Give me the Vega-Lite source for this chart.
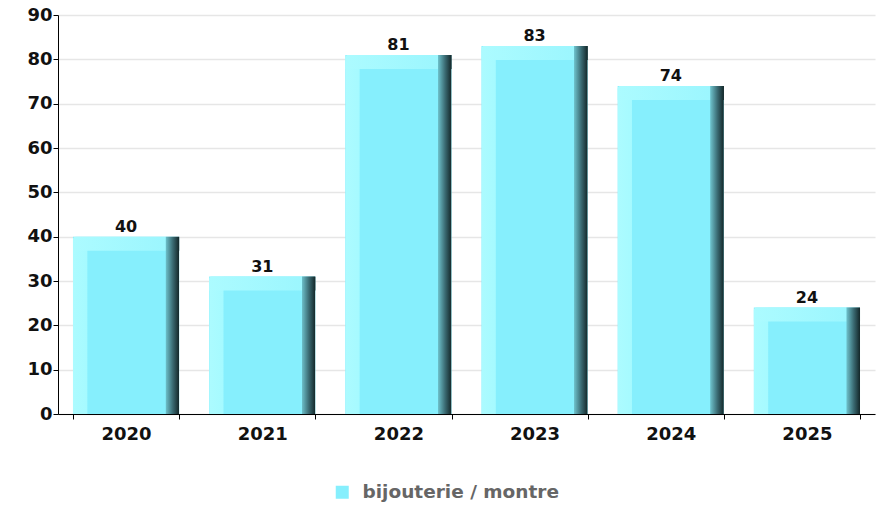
{
  "$schema": "https://vega.github.io/schema/vega-lite/v6.json",
  "width": 817,
  "height": 399,
  "autosize": "none",
  "padding": {"left": 58, "top": 15, "right": 11, "bottom": 91},
  "background": "white",
  "config": {
    "view": {"stroke": null},
    "font": "DejaVu Sans"
  },
  "data": {
    "values": [
      {"year": "2020", "value": 40, "series": "bijouterie / montre"},
      {"year": "2021", "value": 31, "series": "bijouterie / montre"},
      {"year": "2022", "value": 81, "series": "bijouterie / montre"},
      {"year": "2023", "value": 83, "series": "bijouterie / montre"},
      {"year": "2024", "value": 74, "series": "bijouterie / montre"},
      {"year": "2025", "value": 24, "series": "bijouterie / montre"}
    ]
  },
  "encoding": {
    "x": {
      "field": "year",
      "type": "nominal",
      "scale": {"paddingInner": 0.22, "paddingOuter": 0.11},
      "axis": {
        "title": null,
        "labelAngle": 0,
        "labelFont": "DejaVu Sans",
        "labelFontWeight": "bold",
        "labelFontSize": 18,
        "labelColor": "#111111",
        "labelPadding": 6,
        "domainColor": "#000000",
        "tickColor": "#000000",
        "tickBand": "extent",
        "tickSize": 5,
        "grid": false
      }
    },
    "y": {
      "field": "value",
      "type": "quantitative",
      "scale": {"domain": [0, 90], "nice": false},
      "axis": {
        "title": null,
        "values": [0, 10, 20, 30, 40, 50, 60, 70, 80, 90],
        "labelOverlap": false,
        "labelFont": "DejaVu Sans",
        "labelFontWeight": "bold",
        "labelFontSize": 18,
        "labelColor": "#111111",
        "labelPadding": 1,
        "domainColor": "#000000",
        "tickColor": "#000000",
        "tickSize": 5,
        "gridColor": "#e6e6e6",
        "gridWidth": 1.5
      }
    }
  },
  "layer": [
    {
      "mark": {"type": "bar"},
      "encoding": {
        "color": {
          "field": "series",
          "type": "nominal",
          "scale": {"range": ["#86effd"]},
          "legend": {
            "title": null,
            "orient": "none",
            "legendX": 275,
            "legendY": 468,
            "symbolType": "square",
            "symbolSize": 169,
            "symbolStrokeWidth": 0,
            "labelFont": "DejaVu Sans",
            "labelFontWeight": "bold",
            "labelFontSize": 18.5,
            "labelColor": "#666666",
            "labelOffset": 11,
            "labelLimit": 400
          }
        }
      }
    },
    {
      "mark": {
        "type": "bar",
        "cornerRadiusTopLeft": 3,
        "fill": {
          "gradient": "linear",
          "x1": 0, "y1": 0, "x2": 1, "y2": 0,
          "stops": [
            {"offset": 0, "color": "#acfbff"},
            {"offset": 0.13, "color": "#a6faff"},
            {"offset": 0.14, "color": "#86effd"},
            {"offset": 0.87, "color": "#86effd"},
            {"offset": 0.875, "color": "#6cbfc9"},
            {"offset": 0.94, "color": "#3a6a72"},
            {"offset": 1, "color": "#132628"}
          ]
        }
      },
      "encoding": {}
    },
    {
      "mark": {
        "type": "bar",
        "cornerRadiusTopLeft": 3,
        "y2Offset": 14,
        "fill": {
          "gradient": "linear",
          "x1": 0, "y1": 0, "x2": 1, "y2": 0,
          "stops": [
            {"offset": 0, "color": "#acfbff"},
            {"offset": 0.87, "color": "#9cf6fe"},
            {"offset": 0.875, "color": "#6cbfc9"},
            {"offset": 0.94, "color": "#3a6a72"},
            {"offset": 1, "color": "#132628"}
          ]
        }
      },
      "encoding": {
        "y2": {"field": "value"}
      }
    },
    {
      "mark": {
        "type": "text",
        "baseline": "bottom",
        "dy": -2,
        "font": "DejaVu Sans",
        "fontWeight": "bold",
        "fontSize": 16,
        "color": "#111111"
      },
      "encoding": {
        "text": {"field": "value", "type": "quantitative"}
      }
    }
  ]
}
